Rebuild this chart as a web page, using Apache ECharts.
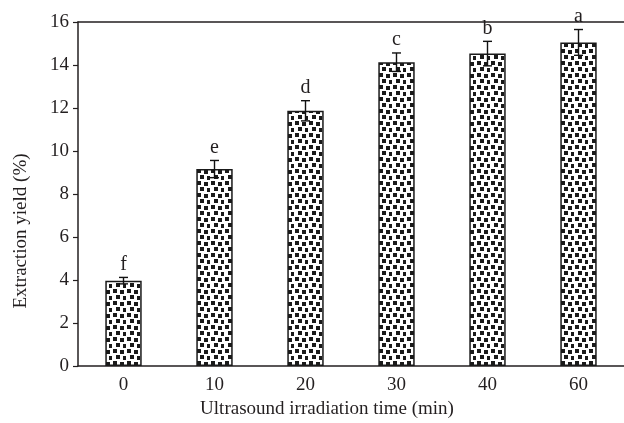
<!DOCTYPE html>
<html><head><meta charset="utf-8">
<script src="https://cdn.jsdelivr.net/npm/echarts@6/dist/echarts.min.js"></script>
<style>html,body{margin:0;padding:0;background:#fff}#c{width:624px;height:423px}</style>
</head><body><div id="c"></div>
<script>
const categories = ['0','10','20','30','40','60'];
const yieldValues = [3.97, 9.16, 11.87, 14.13, 14.53, 15.05];
const errors = [0.15, 0.40, 0.47, 0.43, 0.57, 0.60];
const letters = ['f','e','d','c','b','a'];
const yTicks = [0,2,4,6,8,10,12,14,16];

const FONT = '"Liberation Serif", "DejaVu Serif", serif';
const TXT = '#231f20';

// dotted pattern tile
const tile = document.createElement('canvas');
tile.width = 14; tile.height = 12;
const g = tile.getContext('2d');
g.fillStyle = '#fff'; g.fillRect(0,0,14,12);
g.fillStyle = '#1a1a1a';
[[1,1],[8,2],[4,7],[11,8]].forEach(p => g.fillRect(p[0], p[1], 4, 4));

const chart = echarts.init(document.getElementById('c'));
chart.setOption({
  animation: false,
  grid: {left: 78, right: 0, top: 22, bottom: 57},
  xAxis: [{
    type: 'category', data: categories,
    axisLine: {lineStyle: {color: '#231f20', width: 1.5}},
    axisTick: {show: false},
    axisLabel: {fontFamily: FONT, fontSize: 19, color: TXT, margin: 10}
  }, {
    type: 'category', data: categories, position: 'top',
    axisLine: {lineStyle: {color: '#231f20', width: 1.5}},
    axisTick: {show: false}, axisLabel: {show: false}
  }],
  yAxis: {
    type: 'value', min: yTicks[0], max: yTicks[yTicks.length-1], interval: 2,
    axisLine: {show: true, lineStyle: {color: '#231f20', width: 1.5}},
    axisTick: {show: true, length: 5, lineStyle: {color: '#231f20', width: 1.2}},
    splitLine: {show: false},
    axisLabel: {fontFamily: FONT, fontSize: 19, color: TXT, margin: 9}
  },
  graphic: [{
    type: 'text', rotation: Math.PI/2, x: 21, y: 231,
    style: {text: 'Extraction yield (%)', font: '19px ' + FONT, fill: TXT,
      textAlign: 'center', textVerticalAlign: 'middle'}
  }, {
    type: 'text', x: 327, y: 409,
    style: {text: 'Ultrasound irradiation time (min)', font: '19px ' + FONT, fill: TXT,
      textAlign: 'center', textVerticalAlign: 'middle'}
  }],
  series: [{
    type: 'bar', data: yieldValues, barWidth: '40%', z: 2,
    itemStyle: {color: {image: tile, repeat: 'repeat'}, borderColor: '#1a1a1a', borderWidth: 1.5}
  }, {
    type: 'custom', z: 5,
    data: yieldValues.map((v, i) => [i, v, errors[i]]),
    renderItem: function (params, api) {
      const x = api.coord([api.value(0), 0])[0];
      const hi = api.coord([api.value(0), api.value(1) + api.value(2)])[1];
      const lo = api.coord([api.value(0), api.value(1) - api.value(2)])[1];
      const cw = 4.5;
      const ls = {stroke: '#111', lineWidth: 1.4};
      return {type: 'group', children: [
        {type: 'line', shape: {x1: x, y1: hi, x2: x, y2: lo}, style: ls},
        {type: 'line', shape: {x1: x - cw, y1: hi, x2: x + cw, y2: hi}, style: ls},
        {type: 'line', shape: {x1: x - cw, y1: lo, x2: x + cw, y2: lo}, style: ls},
        {type: 'text', x: x, y: hi - 3, style: {text: letters[params.dataIndex],
          font: '20px ' + FONT, fill: TXT, textAlign: 'center', textVerticalAlign: 'bottom'}}
      ]};
    }
  }]
});
</script></body></html>
